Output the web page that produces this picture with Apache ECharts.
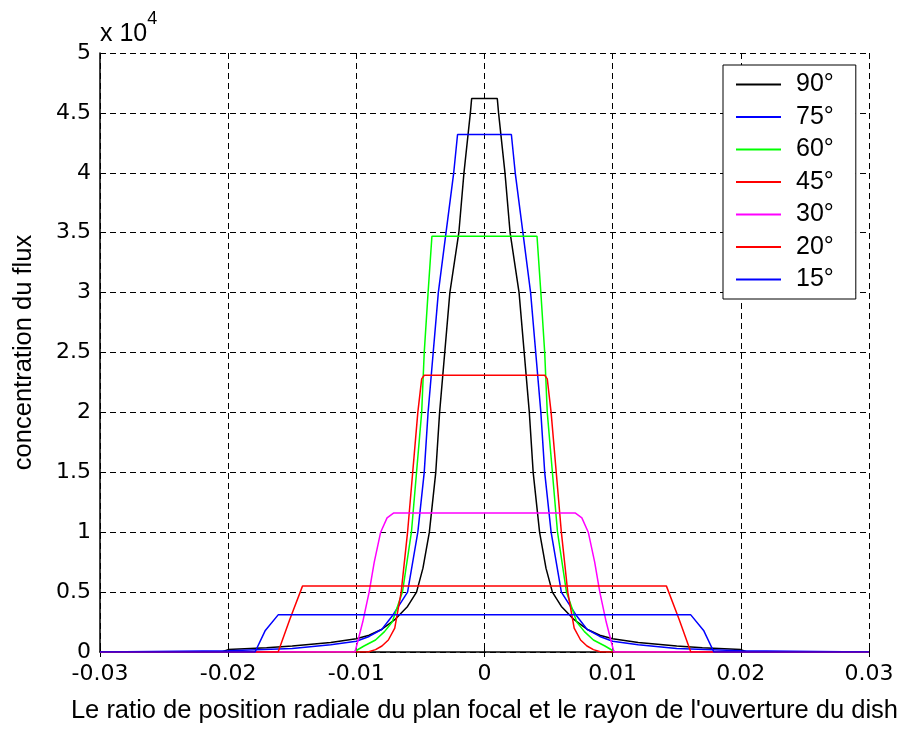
<!DOCTYPE html>
<html>
<head>
<meta charset="utf-8">
<script src="https://cdn.jsdelivr.net/npm/echarts@6/dist/echarts.min.js"></script>
<style>
  html, body { margin: 0; padding: 0; background: #fff; }
  #chart { width: 901px; height: 729px; }
</style>
</head>
<body>
<div id="chart"></div>
<script>
// flux concentration profiles, y in units of 1e4
var names = ['90°', '75°', '60°', '45°', '30°', '20°', '15°'];
var colors = ['#000000', '#0000ff', '#00ff00', '#ff0000', '#ff00ff', '#ff0000', '#0000ff'];

var x90 = [-0.03, -0.0205, -0.02, -0.017, -0.015, -0.012, -0.01, -0.009, -0.008, -0.007, -0.006, -0.0053, -0.0048, -0.0043, -0.0038, -0.0035, -0.0031, -0.0027, -0.002, -0.0016, -0.0011, -0.001,
           0.001, 0.0011, 0.0016, 0.002, 0.0027, 0.0031, 0.0035, 0.0038, 0.0043, 0.0048, 0.0053, 0.006, 0.007, 0.008, 0.009, 0.01, 0.012, 0.015, 0.017, 0.02, 0.0205, 0.03];
var y90 = [0, 0, 0.02, 0.035, 0.05, 0.08, 0.11, 0.14, 0.19, 0.27, 0.38, 0.5, 0.7, 1.0, 1.5, 2.0, 2.5, 3.0, 3.5, 4.0, 4.5, 4.62,
           4.62, 4.5, 4.0, 3.5, 3.0, 2.5, 2.0, 1.5, 1.0, 0.7, 0.5, 0.38, 0.27, 0.19, 0.14, 0.11, 0.08, 0.05, 0.035, 0.02, 0, 0];

var x75 = [-0.03, -0.02, -0.015, -0.012, -0.01, -0.009, -0.008, -0.0072, -0.0066, -0.006, -0.0052, -0.0047, -0.0044, -0.004, -0.0036, -0.003, -0.0024, -0.0021,
           0.0021, 0.0024, 0.003, 0.0036, 0.004, 0.0044, 0.0047, 0.0052, 0.006, 0.0066, 0.0072, 0.008, 0.009, 0.01, 0.012, 0.015, 0.02, 0.03];
var y75 = [0, 0.01, 0.03, 0.06, 0.09, 0.13, 0.19, 0.3, 0.4, 0.5, 1.0, 1.5, 2.0, 2.5, 3.0, 3.5, 4.0, 4.32,
           4.32, 4.0, 3.5, 3.0, 2.5, 2.0, 1.5, 1.0, 0.5, 0.4, 0.3, 0.19, 0.13, 0.09, 0.06, 0.03, 0.01, 0];

var x60 = [-0.03, -0.0102, -0.0094, -0.0085, -0.0078, -0.0072, -0.0064, -0.0057, -0.0053, -0.0049, -0.0047, -0.0044, -0.0041,
           0.0041, 0.0044, 0.0047, 0.0049, 0.0053, 0.0057, 0.0064, 0.0072, 0.0078, 0.0085, 0.0094, 0.0102, 0.03];
var y60 = [0, 0, 0.05, 0.1, 0.17, 0.25, 0.5, 1.0, 1.5, 2.0, 2.5, 3.0, 3.47,
           3.47, 3.0, 2.5, 2.0, 1.5, 1.0, 0.5, 0.25, 0.17, 0.1, 0.05, 0, 0];

var x45 = [-0.03, -0.0091, -0.0085, -0.008, -0.0075, -0.007, -0.0065, -0.006, -0.0056, -0.0052, -0.0049, -0.0047,
           0.0047, 0.0049, 0.0052, 0.0056, 0.006, 0.0065, 0.007, 0.0075, 0.008, 0.0085, 0.0091, 0.03];
var y45 = [0, 0, 0.02, 0.05, 0.1, 0.2, 0.5, 1.0, 1.5, 2.0, 2.28, 2.31,
           2.31, 2.28, 2.0, 1.5, 1.0, 0.5, 0.2, 0.1, 0.05, 0.02, 0, 0];

var x30 = [-0.03, -0.0101, -0.0095, -0.009, -0.0086, -0.0081, -0.0076, -0.0071, 0.0071, 0.0076, 0.0081, 0.0086, 0.009, 0.0095, 0.0101, 0.03];
var y30 = [0, 0, 0.25, 0.5, 0.75, 1.0, 1.12, 1.16, 1.16, 1.12, 1.0, 0.75, 0.5, 0.25, 0, 0];

var x20 = [-0.03, -0.0161, -0.0152, -0.0142, 0.0142, 0.0152, 0.0161, 0.03];
var y20 = [0, 0, 0.27, 0.55, 0.55, 0.27, 0, 0];

var x15 = [-0.03, -0.0179, -0.0171, -0.0161, 0.0161, 0.0171, 0.0179, 0.03];
var y15 = [0, 0, 0.18, 0.31, 0.31, 0.18, 0, 0];

var xs = [x90, x75, x60, x45, x30, x20, x15];
var ys = [y90, y75, y60, y45, y30, y20, y15];

var font = 'Liberation Sans, Arial, sans-serif';
var tickFont = 'DejaVu Sans, sans-serif';
var dash = [6, 4];

var myChart = echarts.init(document.getElementById('chart'));

var series = names.map(function (name, i) {
    return {
        name: name,
        type: 'line',
        symbol: 'none',
        animation: false,
        lineStyle: {color: colors[i], width: 1.5},
        itemStyle: {color: colors[i]},
        data: xs[i].map(function (x, k) {
            return [x, ys[i][k]];
        })
    };
});

var option = {
    backgroundColor: '#fff',
    textStyle: {fontFamily: font},
    grid: {left: 100, right: 31, top: 53, bottom: 76},
    legend: {
        orient: 'vertical',
        left: 723,
        top: 65,
        padding: [7, 22, 7, 13],
        icon: 'rect',
        itemWidth: 45,
        itemHeight: 2,
        itemGap: 7.5,
        backgroundColor: '#fff',
        borderColor: '#000',
        borderWidth: 1,
        borderRadius: 0,
        data: names,
        textStyle: {fontFamily: font, fontSize: 25, color: '#000', padding: [0, 0, 0, 10]}
    },
    graphic: [{
        type: 'text',
        left: 100,
        top: 10,
        style: {
            text: '{a|x 10}{b|4}',
            rich: {
                a: {fontFamily: font, fontSize: 25, fill: '#000', padding: [12, 0, 0, 0]},
                b: {fontFamily: font, fontSize: 18, fill: '#000', verticalAlign: 'top'}
            }
        }
    }],
    xAxis: [{
        type: 'value',
        min: -0.03,
        max: 0.03,
        interval: 0.01,
        name: "Le ratio de position radiale du plan focal et le rayon de l'ouverture du dish",
        nameLocation: 'middle',
        nameGap: 46,
        nameTextStyle: {fontFamily: font, fontSize: 25.5, color: '#000'},
        axisLine: {onZero: false, lineStyle: {color: '#000', width: 1.5}},
        axisTick: {inside: true, length: 5, lineStyle: {color: '#000'}},
        axisLabel: {
            fontFamily: tickFont, fontSize: 22, color: '#000', margin: 11,
            formatter: function (v) { return String(Number(v.toFixed(2))); }
        },
        splitLine: {show: true, lineStyle: {color: '#000', type: dash, width: 1}}
    }, {
        type: 'value',
        position: 'top',
        min: -0.03,
        max: 0.03,
        interval: 0.01,
        axisLine: {show: false},
        axisTick: {inside: true, length: 5, lineStyle: {color: '#000'}},
        axisLabel: {show: false},
        splitLine: {show: false}
    }],
    yAxis: [{
        type: 'value',
        min: 0,
        max: 5,
        interval: 0.5,
        name: 'concentration du flux',
        nameLocation: 'middle',
        nameRotate: 90,
        nameGap: 63,
        nameTextStyle: {fontFamily: font, fontSize: 25.5, color: '#000'},
        axisLine: {show: true, onZero: false, lineStyle: {color: '#000', width: 1.5}},
        axisTick: {show: true, inside: true, length: 5, lineStyle: {color: '#000'}},
        axisLabel: {
            fontFamily: tickFont, fontSize: 22, color: '#000', margin: 9,
            formatter: function (v) { return String(Number(v.toFixed(1))); }
        },
        splitLine: {show: true, lineStyle: {color: '#000', type: dash, width: 1}}
    }, {
        type: 'value',
        position: 'right',
        min: 0,
        max: 5,
        interval: 0.5,
        axisLine: {show: false},
        axisTick: {show: true, inside: true, length: 5, lineStyle: {color: '#000'}},
        axisLabel: {show: false},
        splitLine: {show: false}
    }],
    series: series
};

myChart.setOption(option);
</script>
</body>
</html>
